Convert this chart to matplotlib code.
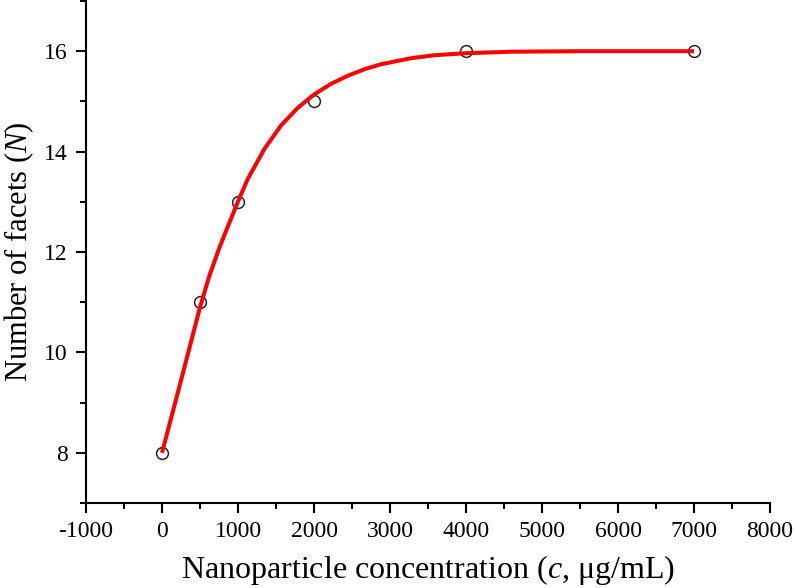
import matplotlib
matplotlib.use("Agg")
import matplotlib.pyplot as plt
from matplotlib.ticker import MultipleLocator

plt.rcParams['font.family'] = ['Liberation Serif', 'DejaVu Serif']
plt.rcParams['mathtext.fontset'] = 'custom'
plt.rcParams['mathtext.rm'] = 'Liberation Serif'
plt.rcParams['mathtext.it'] = 'Liberation Serif:italic'
plt.rcParams['axes.unicode_minus'] = False

# measured data
conc = [0, 500, 1000, 2000, 4000, 7000]
facets = [8, 11, 13, 15, 16, 16]

# fitted curve
fit_x = [0, 118, 250, 382, 504, 622, 754, 864, 1004, 1127, 1346, 1566, 1785,
         2004, 2224, 2443, 2662, 2882, 3276, 3583, 4000, 4592, 5500, 7000]
fit_y = [8.0, 8.68, 9.44, 10.21, 10.92, 11.52, 12.08, 12.50, 13.02, 13.45, 14.05,
         14.52, 14.87, 15.14, 15.35, 15.51, 15.64, 15.74, 15.86, 15.92, 15.96,
         15.99, 16.0, 16.0]

xticks = [-1000, 0, 1000, 2000, 3000, 4000, 5000, 6000, 7000, 8000]
yticks = [8, 10, 12, 14, 16]

fig = plt.figure(figsize=(7.94, 5.88), dpi=100)
ax = fig.add_axes([86/794, 1 - 503/588, (770-86)/794, (503-1)/588])

ax.plot(conc, facets, linestyle='none', marker='o', markersize=8.5,
        markerfacecolor='none', markeredgecolor='#222222', markeredgewidth=1.1, zorder=2)
ax.plot(fit_x, fit_y, color='#ff0000', linewidth=2.9, zorder=3,
        solid_capstyle='butt', solid_joinstyle='round')

ax.set_xlim(-1000, 8000)
ax.set_ylim(7, 17)
ax.set_xticks(xticks)
ax.set_yticks(yticks)
ax.xaxis.set_minor_locator(MultipleLocator(500))
ax.yaxis.set_minor_locator(MultipleLocator(1))

for s in ['top', 'right']:
    ax.spines[s].set_visible(False)
for s in ['left', 'bottom']:
    ax.spines[s].set_linewidth(1.5)

ax.tick_params(which='major', direction='out', length=7, width=1.5, labelsize=17, pad=6)
ax.tick_params(which='minor', direction='out', length=4, width=1.5)

ax.set_xlabel(r'Nanoparticle concentration ($\mathit{c}$, μg/mL)', fontsize=23, labelpad=8)
ax.set_ylabel(r'Number of facets ($\mathit{N}$)', fontsize=22)
ax.yaxis.set_label_coords(-0.073, 0.5)

fig.savefig('out.png', dpi=100)
